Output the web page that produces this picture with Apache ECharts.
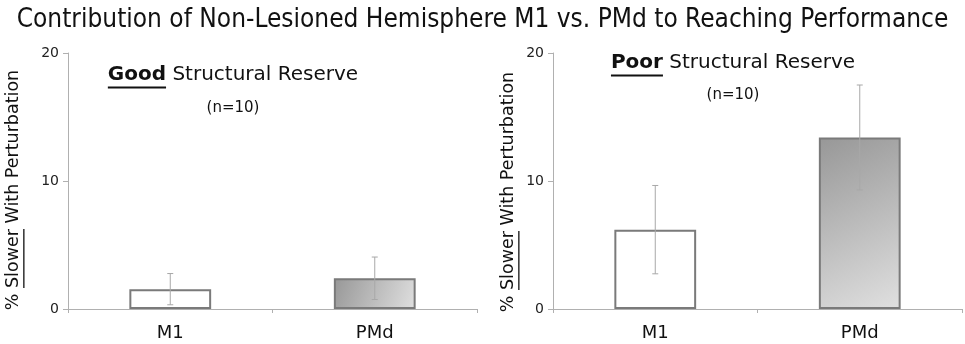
<!DOCTYPE html>
<html>
<head>
<meta charset="utf-8">
<script src="https://cdn.jsdelivr.net/npm/echarts@6/dist/echarts.min.js"></script>
<style>
  html, body { margin: 0; padding: 0; background: #fff; }
  #chart { width: 965px; height: 344px; }
</style>
</head>
<body>
<div id="chart"></div>
<script>
// data
const categories = ['M1', 'PMd'];
const goodMeans = [1.55, 2.4];
const goodErr = [1.22, 1.66];
const poorMeans = [6.2, 13.4];
const poorErr = [3.45, 4.1];
const yTicks = [0, 10, 20];

const FONT = '"DejaVu Sans", Verdana, sans-serif';
const chart = echarts.init(document.getElementById('chart'));

// measure text so mixed bold / underlined pieces can be laid out
const ctx = document.createElement('canvas').getContext('2d');
function measure(text, size, bold) {
  ctx.font = (bold ? 'bold ' : '') + size + 'px ' + FONT;
  return ctx.measureText(text).width;
}

function textLine(parts, size, cx, cy, rotation) {
  const widths = parts.map(p => measure(p.text, size, p.bold));
  const total = widths.reduce((a, b) => a + b, 0);
  let x = -total / 2;
  const children = [];
  parts.forEach((p, i) => {
    children.push({
      type: 'text', x: x, y: 0,
      style: {
        text: p.text, fill: '#111', fontSize: size, fontFamily: FONT,
        fontWeight: p.bold ? 'bold' : 'normal', align: 'left', verticalAlign: 'middle'
      }
    });
    if (p.underline) {
      children.push({
        type: 'line',
        shape: { x1: x, y1: size * 0.62, x2: x + widths[i], y2: size * 0.62 },
        style: { stroke: '#111', lineWidth: p.bold ? 2 : 1.3 }
      });
    }
    x += widths[i];
  });
  return { type: 'group', x: cx, y: cy, rotation: rotation || 0, children: children };
}

const barGradient = new echarts.graphic.LinearGradient(0, 0, 1, 1, [
  { offset: 0, color: '#979797' },
  { offset: 1, color: '#e0e0e0' }
]);

function barData(means) {
  return means.map((v, i) => ({
    value: v,
    itemStyle: i === 0
      ? { color: '#ffffff', borderColor: '#7a7a7a', borderWidth: 2 }
      : { color: barGradient, borderColor: '#7a7a7a', borderWidth: 2 }
  }));
}

function errData(means, errs) {
  return means.map((v, i) => [i, v - errs[i], v + errs[i]]);
}

function renderErr(params, api) {
  const lo = api.coord([api.value(0), api.value(1)]);
  const hi = api.coord([api.value(0), api.value(2)]);
  const cap = 3;
  const st = { stroke: '#a8a8a8', lineWidth: 1 };
  return {
    type: 'group',
    children: [
      { type: 'line', shape: { x1: lo[0], y1: lo[1], x2: hi[0], y2: hi[1] }, style: st },
      { type: 'line', shape: { x1: lo[0] - cap, y1: lo[1], x2: lo[0] + cap, y2: lo[1] }, style: st },
      { type: 'line', shape: { x1: hi[0] - cap, y1: hi[1], x2: hi[0] + cap, y2: hi[1] }, style: st }
    ]
  };
}

function xAxis(idx) {
  return {
    type: 'category', gridIndex: idx, data: categories,
    axisLine: { lineStyle: { color: '#b0b0b0', width: 1 } },
    axisTick: { show: true, length: 4, lineStyle: { color: '#b0b0b0' } },
    axisLabel: { color: '#111', fontSize: 18, fontFamily: FONT, margin: 15 }
  };
}

function yAxis(idx) {
  return {
    type: 'value', gridIndex: idx, min: yTicks[0], max: yTicks[yTicks.length - 1], interval: 10,
    splitLine: { show: false },
    axisLine: { show: true, lineStyle: { color: '#b0b0b0', width: 1 } },
    axisTick: { show: true, length: 5, lineStyle: { color: '#b0b0b0' } },
    axisLabel: { color: '#222', fontSize: 14, fontFamily: FONT, margin: 9 }
  };
}

const yName = [
  { text: '% ' }, { text: 'Slower', underline: true }, { text: ' With Perturbation' }
];

const option = {
  animation: false,
  backgroundColor: '#fff',
  title: {
    text: 'Contribution of Non-Lesioned Hemisphere M1 vs. PMd to Reaching Performance',
    left: 'center', top: 2,
    textStyle: { color: '#111', fontSize: 26, fontWeight: 'normal', fontFamily: '"DejaVu Sans Condensed", "DejaVu Sans", sans-serif' }
  },
  grid: [
    { left: 68, right: 488, top: 53, bottom: 35 },
    { left: 553, right: 3, top: 53, bottom: 35 }
  ],
  xAxis: [xAxis(0), xAxis(1)],
  yAxis: [yAxis(0), yAxis(1)],
  series: [
    { type: 'bar', xAxisIndex: 0, yAxisIndex: 0, barWidth: '40%', data: barData(goodMeans) },
    { type: 'bar', xAxisIndex: 1, yAxisIndex: 1, barWidth: '40%', data: barData(poorMeans) },
    { type: 'custom', xAxisIndex: 0, yAxisIndex: 0, renderItem: renderErr, data: errData(goodMeans, goodErr), z: 5 },
    { type: 'custom', xAxisIndex: 1, yAxisIndex: 1, renderItem: renderErr, data: errData(poorMeans, poorErr), z: 5 }
  ],
  graphic: [
    textLine([{ text: 'Good', bold: true, underline: true }, { text: ' Structural Reserve' }], 20, 233, 75),
    textLine([{ text: '(n=10)' }], 15, 233, 108),
    textLine([{ text: 'Poor', bold: true, underline: true }, { text: ' Structural Reserve' }], 20, 733, 63),
    textLine([{ text: '(n=10)' }], 15, 733, 95),
    textLine(yName, 17.5, 13, 190, Math.PI / 2),
    textLine(yName, 17.5, 508, 192, Math.PI / 2)
  ]
};

chart.setOption(option);
</script>
</body>
</html>
